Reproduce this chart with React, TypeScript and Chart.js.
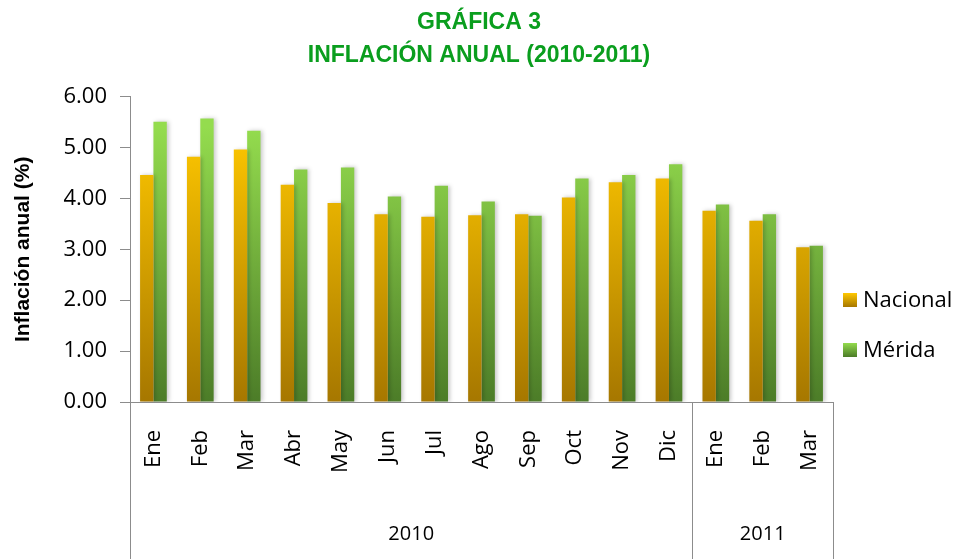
import React, { useEffect, useRef } from "react";
import { Chart, registerables } from "chart.js";

Chart.register(...registerables);

const TITLE_LINES = ["GRÁFICA 3", "INFLACIÓN ANUAL (2010-2011)"];
const Y_TITLE = "Inflación anual (%)";
const MONTHS = ["Ene", "Feb", "Mar", "Abr", "May", "Jun", "Jul", "Ago", "Sep", "Oct", "Nov", "Dic", "Ene", "Feb", "Mar"];
const YEAR_LABELS = ["2010", "2011"];
const YEAR_SPANS = [12, 3];
const SERIES_NAMES = ["Nacional", "Mérida"];
const NACIONAL = [4.46, 4.82, 4.96, 4.27, 3.91, 3.69, 3.64, 3.67, 3.69, 4.02, 4.32, 4.39, 3.76, 3.56, 3.04];
const MERIDA = [5.51, 5.57, 5.33, 4.57, 4.61, 4.04, 4.25, 3.94, 3.66, 4.39, 4.46, 4.67, 3.88, 3.69, 3.07];
const Y_MIN = 0;
const Y_MAX = 6;
const Y_STEP = 1;

const GRADS = [
  { top: "#FFC800", bottom: "#A67700", flat: "#E8AE00" },
  { top: "#94DC4E", bottom: "#4C7C28", flat: "#72AE3C" },
];

const AXIS_COLOR = "#8C8C8C";
const FONT = "'Open Sans', sans-serif";
const BOLD_FONT = "'Liberation Sans', Arial, sans-serif";

function makeGradient(chart: any, idx: number) {
  const area = chart.chartArea;
  const g = GRADS[idx];
  if (!area) return g.flat;
  const grad = chart.ctx.createLinearGradient(0, area.bottom, 0, area.top + (area.bottom - area.top) * 0.1);
  grad.addColorStop(0, g.bottom);
  grad.addColorStop(1, g.top);
  return grad;
}

const extrasPlugin = {
  id: "extras",
  beforeDatasetsDraw(chart: any) {
    const ctx = chart.ctx;
    ctx.save();
    ctx.shadowColor = "rgba(0,0,0,0.22)";
    ctx.shadowBlur = 4;
    ctx.shadowOffsetX = 2;
    ctx.shadowOffsetY = 0;
  },
  afterDatasetsDraw(chart: any) {
    chart.ctx.restore();
  },
  afterDraw(chart: any) {
    const { ctx, chartArea, scales } = chart;
    const x = scales.x;
    const bottom = chart.height;
    ctx.save();
    // category group separators
    const bounds: number[] = [chartArea.left];
    let idx = 0;
    YEAR_SPANS.forEach((span, i) => {
      idx += span;
      if (i < YEAR_SPANS.length - 1) {
        bounds.push((x.getPixelForValue(idx - 1) + x.getPixelForValue(idx)) / 2);
      }
    });
    bounds.push(chartArea.right);
    ctx.strokeStyle = AXIS_COLOR;
    ctx.lineWidth = 1;
    bounds.forEach((b) => {
      const bx = Math.round(b) + 0.5;
      ctx.beginPath();
      ctx.moveTo(bx, chartArea.bottom);
      ctx.lineTo(bx, bottom);
      ctx.stroke();
    });
    ctx.fillStyle = "#000";
    ctx.font = `20px ${FONT}`;
    ctx.textAlign = "center";
    ctx.textBaseline = "middle";
    YEAR_LABELS.forEach((lbl, i) => {
      ctx.fillText(lbl, (bounds[i] + bounds[i + 1]) / 2, 534);
    });
    // legend
    ctx.font = `22px ${FONT}`;
    ctx.textAlign = "left";
    const lx = chartArea.right + 10;
    SERIES_NAMES.forEach((name, i) => {
      const cy = 300 + i * 50;
      const g = GRADS[i];
      const grad = ctx.createLinearGradient(0, cy + 7, 0, cy - 7);
      grad.addColorStop(0, g.bottom);
      grad.addColorStop(1, g.top);
      ctx.fillStyle = grad;
      ctx.fillRect(lx, cy - 7, 14, 14);
      ctx.fillStyle = "#000";
      ctx.fillText(name, lx + 20, cy + 1);
    });
    ctx.restore();
  },
};

export default function App() {
  const ref = useRef<HTMLCanvasElement | null>(null);
  useEffect(() => {
    document.body.style.margin = "0";
    const canvas = ref.current;
    if (!canvas) return;
    const chart = new Chart(canvas, {
      type: "bar",
      data: {
        labels: MONTHS,
        datasets: [
          {
            label: SERIES_NAMES[0],
            data: NACIONAL,
            backgroundColor: (c: any) => makeGradient(c.chart, 0),
            borderWidth: 0,
          },
          {
            label: SERIES_NAMES[1],
            data: MERIDA,
            backgroundColor: (c: any) => makeGradient(c.chart, 1),
            borderWidth: 0,
          },
        ],
      },
      options: {
        responsive: false,
        animation: false,
        layout: { padding: 0 },
        datasets: {
          bar: { categoryPercentage: 0.57, barPercentage: 1 },
        },
        plugins: {
          legend: { display: false },
          tooltip: { enabled: false },
          title: {
            display: true,
            text: TITLE_LINES,
            color: "#0A9E1E",
            font: { family: BOLD_FONT, size: 23, weight: "bold", lineHeight: 1.45 },
            padding: { top: 6, bottom: 24 },
          },
        },
        scales: {
          x: {
            grid: { display: false },
            border: { display: true, color: AXIS_COLOR, width: 1 },
            ticks: {
              color: "#000",
              font: { family: FONT, size: 22 },
              minRotation: 90,
              maxRotation: 90,
              autoSkip: false,
              padding: 20,
            },
            afterFit: (s: any) => {
              s.height = 157;
            },
          },
          y: {
            min: Y_MIN,
            max: Y_MAX,
            ticks: {
              stepSize: Y_STEP,
              color: "#000",
              font: { family: FONT, size: 22 },
              padding: 13,
              callback: (v: any) => Number(v).toFixed(2),
            },
            grid: { display: true, drawOnChartArea: false, drawTicks: true, tickLength: 10, color: AXIS_COLOR },
            border: { display: true, color: AXIS_COLOR, width: 1 },
            title: {
              display: true,
              text: Y_TITLE,
              color: "#000",
              font: { family: BOLD_FONT, size: 21, weight: "bold" },
              padding: { top: 11, bottom: 0 },
            },
            afterFit: (s: any) => {
              s.width = 130;
            },
          },
          legendSpace: {
            type: "linear",
            position: "right",
            display: true,
            grid: { display: false, drawTicks: false },
            border: { display: false },
            ticks: { display: false },
            afterFit: (s: any) => {
              s.width = 125;
            },
          },
        },
      },
      plugins: [extrasPlugin],
    } as any);
    return () => chart.destroy();
  }, []);
  return (
    <div style={{ position: "absolute", left: 0, top: 0, width: 958, height: 559 }}>
      <canvas ref={ref} width={958} height={559} style={{ display: "block", width: 958, height: 559 }} />
    </div>
  );
}
